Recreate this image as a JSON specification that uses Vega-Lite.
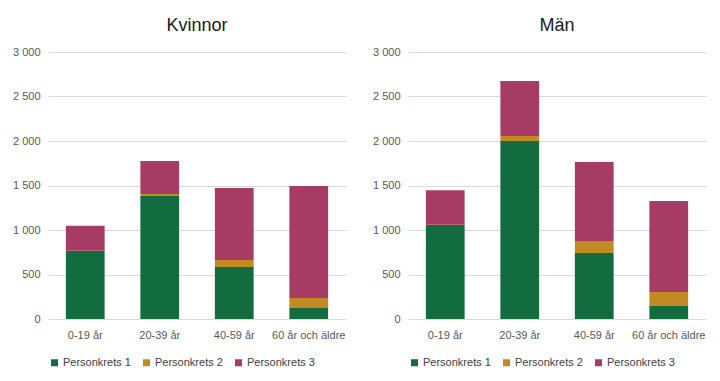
{
  "$schema": "https://vega.github.io/schema/vega-lite/v6.json",
  "padding": {"left": 12, "top": 17, "right": 6, "bottom": 4},
  "background": "white",
  "config": {
    "font": "Liberation Sans",
    "locale": {"number": {"decimal": ",", "thousands": " ", "grouping": [3], "currency": ["", " kr"]}},
    "view": {"stroke": null},
    "concat": {"spacing": 26},
    "axis": {"labelFont": "Liberation Sans", "labelFontSize": 11, "labelColor": "#595959", "title": null, "ticks": false},
    "title": {"font": "Liberation Sans", "fontSize": 18, "fontWeight": "normal", "color": "#1a1a1a", "anchor": "middle", "frame": "group", "offset": 11},
    "legend": {"labelFont": "Liberation Sans", "labelFontSize": 11, "labelColor": "#404040", "symbolType": "square", "symbolSize": 49, "symbolStrokeWidth": 0, "title": null, "columnPadding": 10, "labelOffset": 3}
  },
  "data": {"values": [
    {"kon": "Kvinnor", "alder": "0-19 år", "krets": "Personkrets 1", "k": 1, "antal": 765},
    {"kon": "Kvinnor", "alder": "0-19 år", "krets": "Personkrets 2", "k": 2, "antal": 2},
    {"kon": "Kvinnor", "alder": "0-19 år", "krets": "Personkrets 3", "k": 3, "antal": 280},
    {"kon": "Kvinnor", "alder": "20-39 år", "krets": "Personkrets 1", "k": 1, "antal": 1382},
    {"kon": "Kvinnor", "alder": "20-39 år", "krets": "Personkrets 2", "k": 2, "antal": 22},
    {"kon": "Kvinnor", "alder": "20-39 år", "krets": "Personkrets 3", "k": 3, "antal": 371},
    {"kon": "Kvinnor", "alder": "40-59 år", "krets": "Personkrets 1", "k": 1, "antal": 584},
    {"kon": "Kvinnor", "alder": "40-59 år", "krets": "Personkrets 2", "k": 2, "antal": 79},
    {"kon": "Kvinnor", "alder": "40-59 år", "krets": "Personkrets 3", "k": 3, "antal": 809},
    {"kon": "Kvinnor", "alder": "60 år och äldre", "krets": "Personkrets 1", "k": 1, "antal": 124},
    {"kon": "Kvinnor", "alder": "60 år och äldre", "krets": "Personkrets 2", "k": 2, "antal": 112},
    {"kon": "Kvinnor", "alder": "60 år och äldre", "krets": "Personkrets 3", "k": 3, "antal": 1258},
    {"kon": "Män", "alder": "0-19 år", "krets": "Personkrets 1", "k": 1, "antal": 1056},
    {"kon": "Män", "alder": "0-19 år", "krets": "Personkrets 2", "k": 2, "antal": 2},
    {"kon": "Män", "alder": "0-19 år", "krets": "Personkrets 3", "k": 3, "antal": 388},
    {"kon": "Män", "alder": "20-39 år", "krets": "Personkrets 1", "k": 1, "antal": 2000},
    {"kon": "Män", "alder": "20-39 år", "krets": "Personkrets 2", "k": 2, "antal": 56},
    {"kon": "Män", "alder": "20-39 år", "krets": "Personkrets 3", "k": 3, "antal": 618},
    {"kon": "Män", "alder": "40-59 år", "krets": "Personkrets 1", "k": 1, "antal": 742},
    {"kon": "Män", "alder": "40-59 år", "krets": "Personkrets 2", "k": 2, "antal": 134},
    {"kon": "Män", "alder": "40-59 år", "krets": "Personkrets 3", "k": 3, "antal": 888},
    {"kon": "Män", "alder": "60 år och äldre", "krets": "Personkrets 1", "k": 1, "antal": 146},
    {"kon": "Män", "alder": "60 år och äldre", "krets": "Personkrets 2", "k": 2, "antal": 157},
    {"kon": "Män", "alder": "60 år och äldre", "krets": "Personkrets 3", "k": 3, "antal": 1023}
  ]},
  "resolve": {"legend": {"color": "independent"}},
  "hconcat": [
    {
      "title": "Kvinnor",
      "width": 298,
      "height": 267,
      "transform": [{"filter": "datum.kon === 'Kvinnor'"}],
      "mark": {"type": "bar", "width": {"band": 0.52}},
      "encoding": {
        "x": {"field": "alder", "type": "nominal", "sort": null, "scale": {"paddingInner": 0, "paddingOuter": 0}, "axis": {"labelAngle": 0, "domainColor": "#d9d9d9", "labelPadding": 10, "grid": false}},
        "y": {"field": "antal", "type": "quantitative", "stack": "zero", "scale": {"domain": [0, 3000], "nice": false}, "axis": {"values": [0, 500, 1000, 1500, 2000, 2500, 3000], "format": ",d", "domain": false, "gridColor": "#d9d9d9", "labelPadding": 8}},
        "color": {"field": "krets", "type": "nominal", "scale": {"domain": ["Personkrets 1", "Personkrets 2", "Personkrets 3"], "range": ["#136b40", "#c18a22", "#a63b63"]}, "legend": {"orient": "none", "direction": "horizontal", "legendX": 1, "legendY": 305}},
        "order": {"field": "k", "type": "quantitative", "sort": "ascending"}
      }
    },
    {
      "title": "Män",
      "width": 298,
      "height": 267,
      "transform": [{"filter": "datum.kon === 'Män'"}],
      "mark": {"type": "bar", "width": {"band": 0.52}},
      "encoding": {
        "x": {"field": "alder", "type": "nominal", "sort": null, "scale": {"paddingInner": 0, "paddingOuter": 0}, "axis": {"labelAngle": 0, "domainColor": "#d9d9d9", "labelPadding": 10, "grid": false}},
        "y": {"field": "antal", "type": "quantitative", "stack": "zero", "scale": {"domain": [0, 3000], "nice": false}, "axis": {"values": [0, 500, 1000, 1500, 2000, 2500, 3000], "format": ",d", "domain": false, "gridColor": "#d9d9d9", "labelPadding": 8}},
        "color": {"field": "krets", "type": "nominal", "scale": {"domain": ["Personkrets 1", "Personkrets 2", "Personkrets 3"], "range": ["#136b40", "#c18a22", "#a63b63"]}, "legend": {"orient": "none", "direction": "horizontal", "legendX": 1, "legendY": 305}},
        "order": {"field": "k", "type": "quantitative", "sort": "ascending"}
      }
    }
  ]
}
